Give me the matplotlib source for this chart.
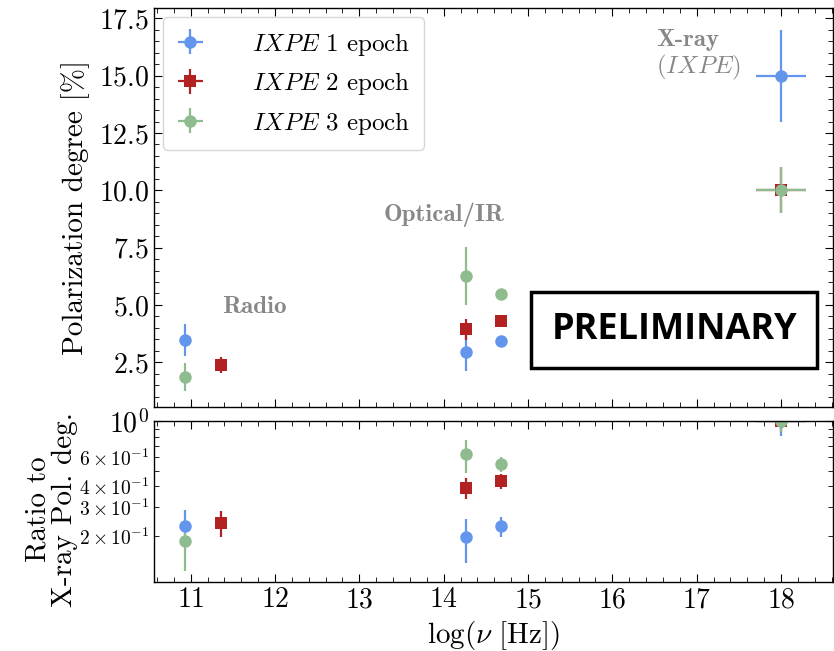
import numpy as np
import matplotlib
matplotlib.use("Agg")
import matplotlib.pyplot as plt
from matplotlib.ticker import AutoMinorLocator, MultipleLocator

plt.rcParams.update({
    "font.family": "serif",
    "font.serif": ["cmr10"],
    "mathtext.fontset": "cm",
    "axes.formatter.use_mathtext": True,
    "axes.linewidth": 1.0,
    "xtick.direction": "in",
    "ytick.direction": "in",
    "xtick.top": True,
    "ytick.right": True,
    "xtick.major.size": 6,
    "ytick.major.size": 6,
    "xtick.minor.size": 3.5,
    "ytick.minor.size": 3.5,
    "xtick.labelsize": 20,
    "ytick.labelsize": 20,
})

# log10 of frequency [Hz]: radio, NIR, optical, X-ray
lognu_ep1 = [10.93, 14.26, 14.68, 18.0]
lognu_ep2 = [11.36, 14.26, 14.68, 18.0]
lognu_ep3 = [10.93, 14.26, 14.68, 18.0]
lognu_err = [0.0, 0.0, 0.0, 0.3]

# polarization degree [%] and 1-sigma errors
pd_ep1 = [3.47, 2.94, 3.43, 15.0]
pd_ep1_err = [0.68, 0.80, 0.15, 2.0]
pd_ep2 = [2.40, 3.93, 4.30, 10.0]
pd_ep2_err = [0.35, 0.45, 0.15, 1.0]
pd_ep3 = [1.86, 6.26, 5.48, 10.0]
pd_ep3_err = [0.60, 1.25, 0.15, 1.0]

labels = [r"$\mathit{IXPE\ 1}$ epoch", r"$\mathit{IXPE\ 2}$ epoch", r"$\mathit{IXPE\ 3}$ epoch"]
colors = ["#6495ED", "#B22222", "#8FBC8F"]
markers = ["o", "s", "o"]

epochs = [
    (lognu_ep1, pd_ep1, pd_ep1_err),
    (lognu_ep2, pd_ep2, pd_ep2_err),
    (lognu_ep3, pd_ep3, pd_ep3_err),
]

fig = plt.figure(figsize=(8.34, 6.51), dpi=100)
ax1 = fig.add_axes([0.1847, 0.3748, 0.8141, 0.6129])
ax2 = fig.add_axes([0.1847, 0.106, 0.8141, 0.2473], sharex=ax1)

for (x, pd, err), lab, c, m in zip(epochs, labels, colors, markers):
    x = np.array(x)
    pd = np.array(pd)
    err = np.array(err)
    style = dict(fmt=m, color=c, ms=9, mew=0, elinewidth=1.6, capsize=0)
    ax1.errorbar(x, pd, yerr=err, xerr=lognu_err, label=lab, **style)
    # ratio to the X-ray value of the same epoch, errors added in quadrature
    ratio = pd / pd[-1]
    ratio_err = ratio * np.sqrt((err / pd) ** 2 + (err[-1] / pd[-1]) ** 2)
    ax2.errorbar(x, ratio, yerr=ratio_err, xerr=lognu_err, **style)

ax1.set_xlim(10.565, 18.617)
ax1.set_ylim(0.55, 17.95)
ax1.xaxis.set_major_locator(MultipleLocator(1))
ax1.xaxis.set_minor_locator(AutoMinorLocator(5))
ax1.yaxis.set_minor_locator(AutoMinorLocator(5))
ax1.tick_params(labelbottom=False)
ax1.set_ylabel("Polarization degree [%]", fontsize=21)
ax1.yaxis.set_label_coords(-0.094, 0.5)

ax1.legend(loc="upper left", fontsize=18, handlelength=1.1, handletextpad=1.9,
           borderaxespad=0.35, labelspacing=0.5, borderpad=0.55)

gray = "#888888"
ax1.text(11.75, 4.91, "Radio", family="cmb10", fontsize=18, color=gray,
         ha="center", va="center")
ax1.text(14.01, 8.93, "Optical/IR", family="cmb10", fontsize=18, color=gray,
         ha="center", va="center")
ax1.text(16.52, 16.56, "X-ray", family="cmb10", fontsize=18, color=gray,
         ha="left", va="center")
ax1.text(16.52, 15.34, r"$(IXPE)$", fontsize=18, color=gray,
         ha="left", va="center")

ax1.text(0.766, 0.193, "PRELIMINARY", transform=ax1.transAxes,
         family="Open Sans", weight="bold", fontsize=26, ha="center", va="center",
         bbox=dict(boxstyle="square,pad=0.55", fc="white", ec="black", lw=2.5))

ax2.set_yscale("log")
ax2.set_ylim(0.105, 1.0)
ax2.tick_params(axis="y", which="minor", labelsize=14)
ax2.set_ylabel("Ratio to\nX-ray Pol. deg.", fontsize=21, linespacing=1.0)
ax2.yaxis.set_label_coords(-0.112, 0.45)
ax2.set_xlabel(r"$\log(\nu\ [\mathrm{Hz}])$", fontsize=21)
ax2.xaxis.set_minor_locator(AutoMinorLocator(5))

fig.savefig("out.png", dpi=100)
